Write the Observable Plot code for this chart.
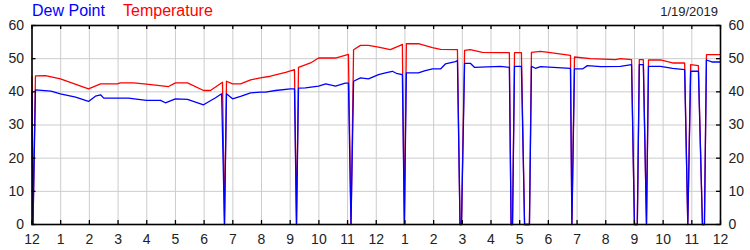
<!DOCTYPE html>
<html><head><meta charset="utf-8">
<script src="https://cdn.jsdelivr.net/npm/d3@7"></script>
<script src="https://cdn.jsdelivr.net/npm/@observablehq/plot@0.6"></script>
<style>
html,body{margin:0;padding:0;background:#fff;}
#wrap{position:relative;width:750px;height:250px;font-family:"Liberation Sans",Arial,sans-serif;}
#wrap svg{position:absolute;left:0;top:0;overflow:visible;}
.hdr{position:absolute;line-height:1;white-space:nowrap;z-index:2;}
</style></head><body>
<div id="wrap">
<div class="hdr" style="left:32px;top:3px;font-size:16px;color:#0000ff">Dew Point</div>
<div class="hdr" style="left:123px;top:3px;font-size:16px;color:#ff0000">Temperature</div>
<div class="hdr" style="right:32px;top:5px;font-size:13px;color:#222">1/19/2019</div>
</div>
<script>
// Hours since midnight (0..24) and readings (°F); 0 = missing reading drawn as a drop to zero
const tempHours = [0,0.035,0.12,0.47,0.99,1.97,2.39,2.98,3.08,3.54,3.99,4.76,5.00,5.42,5.98,6.22,6.64,6.71,6.78,6.99,7.27,7.62,7.96,8.31,8.84,9.15,9.22,9.29,9.71,9.99,10.58,11.03,11.12,11.21,11.45,11.73,12.08,12.49,12.84,12.91,12.98,13.05,13.47,13.96,14.24,14.83,14.92,14.97,15.08,15.28,15.70,16.33,16.64,16.70,16.75,16.82,17.06,17.17,17.34,17.41,17.73,18.07,18.77,18.82,18.91,19.47,20.34,20.51,20.90,21.00,21.10,21.17,21.31,21.42,21.49,21.91,22.33,22.75,22.86,22.96,23.23,23.37,23.44,23.51,24.0];
const tempValues = [44.6,0,44.8,44.9,43.9,40.9,42.4,42.4,42.7,42.7,42.3,41.6,42.7,42.7,40.4,40.4,42.9,0,43.2,42.4,42.4,43.6,44.2,44.7,45.9,46.7,0,47.4,48.7,50.2,50.2,51.3,0,52.7,54.0,54.0,53.5,52.7,54.0,54.3,0,54.5,54.5,53.3,52.8,52.7,0,0,52.5,52.7,51.9,51.8,51.8,0,0,51.8,51.8,0,0,51.9,52.2,51.8,51.0,0,50.5,50.0,49.7,50.0,49.7,0,0,49.7,49.7,0,49.6,49.6,48.7,48.7,0,48.2,47.9,0,0,51.2,51.2];

const dewHours = [0,0.035,0.12,0.66,0.99,1.52,1.97,2.21,2.39,2.50,2.98,3.36,3.99,4.48,4.65,5.00,5.42,5.98,6.40,6.61,6.71,6.78,6.99,7.27,7.62,7.96,8.14,8.49,9.01,9.15,9.22,9.29,9.53,9.99,10.24,10.58,10.92,11.03,11.12,11.21,11.45,11.73,12.08,12.32,12.56,12.70,12.91,12.98,13.05,13.47,13.71,13.96,14.24,14.41,14.76,14.83,14.92,14.97,15.08,15.28,15.42,16.33,16.64,16.70,16.75,16.82,17.06,17.17,17.34,17.41,17.55,17.73,18.77,18.82,18.91,19.19,19.36,19.82,20.51,20.90,21.00,21.10,21.17,21.31,21.42,21.49,21.91,22.33,22.75,22.86,22.96,23.23,23.37,23.44,23.51,23.70,24.0];
const dewValues = [39.8,0,40.6,40.2,39.4,38.4,37.1,38.7,39.1,38.1,38.1,38.1,37.4,37.4,36.7,37.9,37.7,36.1,38.2,39.4,0,39.4,37.9,38.6,39.7,39.9,39.9,40.4,40.9,40.9,0,41.1,41.2,41.7,42.4,41.7,42.6,42.6,0,43.2,44.2,43.9,45.2,45.7,46.2,45.6,45.2,0,45.7,45.7,46.4,46.9,46.9,48.4,49.1,49.4,0,0,48.6,48.6,47.4,47.7,47.4,0,0,47.7,47.7,0,0,47.7,47.1,47.6,47.1,0,46.9,46.9,47.9,47.6,47.7,48.2,0,0,48.2,48.2,0,47.7,47.7,47.1,46.7,0,46.2,46.2,0,0,49.6,49.0,49.0];

const xTicks = [0,1,2,3,4,5,6,7,8,9,10,11,12,13,14,15,16,17,18,19,20,21,22,23,24];
const xTickLabels = ["12","1","2","3","4","5","6","7","8","9","10","11","12","1","2","3","4","5","6","7","8","9","10","11","12"];
const yTicks = [0,10,20,30,40,50,60];

const temp = tempHours.map((h, i) => ({h, v: tempValues[i]}));
const dew = dewHours.map((h, i) => ({h, v: dewValues[i]}));

const W = 750, H = 250, mL = 31.5, mR = 30, mT = 25, mB = 26;
const fw = W - mL - mR, fh = H - mT - mB, tk = 4;

const chart = Plot.plot({
  width: W, height: H,
  marginLeft: mL, marginRight: mR, marginTop: mT, marginBottom: mB,
  style: {fontFamily: "'Liberation Sans', Arial, sans-serif", fontSize: "14px", color: "#222", background: "transparent"},
  x: {domain: [0, 24]},
  y: {domain: [0, 60]},
  marks: [
    Plot.gridX(xTicks, {stroke: "#cccccc", strokeOpacity: 1}),
    Plot.gridY(yTicks, {stroke: "#cccccc", strokeOpacity: 1}),
    Plot.line(temp, {x: "h", y: "v", stroke: "#ff0000", strokeWidth: 1.3}),
    Plot.line(dew, {x: "h", y: "v", stroke: "#0000ff", strokeWidth: 1.3}),
    Plot.frame({stroke: "#000", strokeWidth: 1.6}),
    Plot.tickY(yTicks, {y: d => d, stroke: "#000", strokeWidth: 1.3, insetRight: fw - tk}),
    Plot.tickY(yTicks, {y: d => d, stroke: "#000", strokeWidth: 1.3, insetLeft: fw - tk}),
    Plot.tickX(xTicks, {x: d => d, stroke: "#000", strokeWidth: 1.3, insetTop: fh - tk}),
    Plot.tickX(xTicks, {x: d => d, stroke: "#000", strokeWidth: 1.3, insetBottom: fh - tk}),
    Plot.axisY(yTicks, {anchor: "left", tickSize: 0, tickPadding: 8, label: null}),
    Plot.axisY(yTicks, {anchor: "right", tickSize: 0, tickPadding: 8, label: null}),
    Plot.axisX(xTicks, {anchor: "bottom", tickSize: 0, tickPadding: 10, label: null, tickFormat: d => xTickLabels[d]})
  ]
});
document.getElementById("wrap").prepend(chart);
</script>
</body></html>
